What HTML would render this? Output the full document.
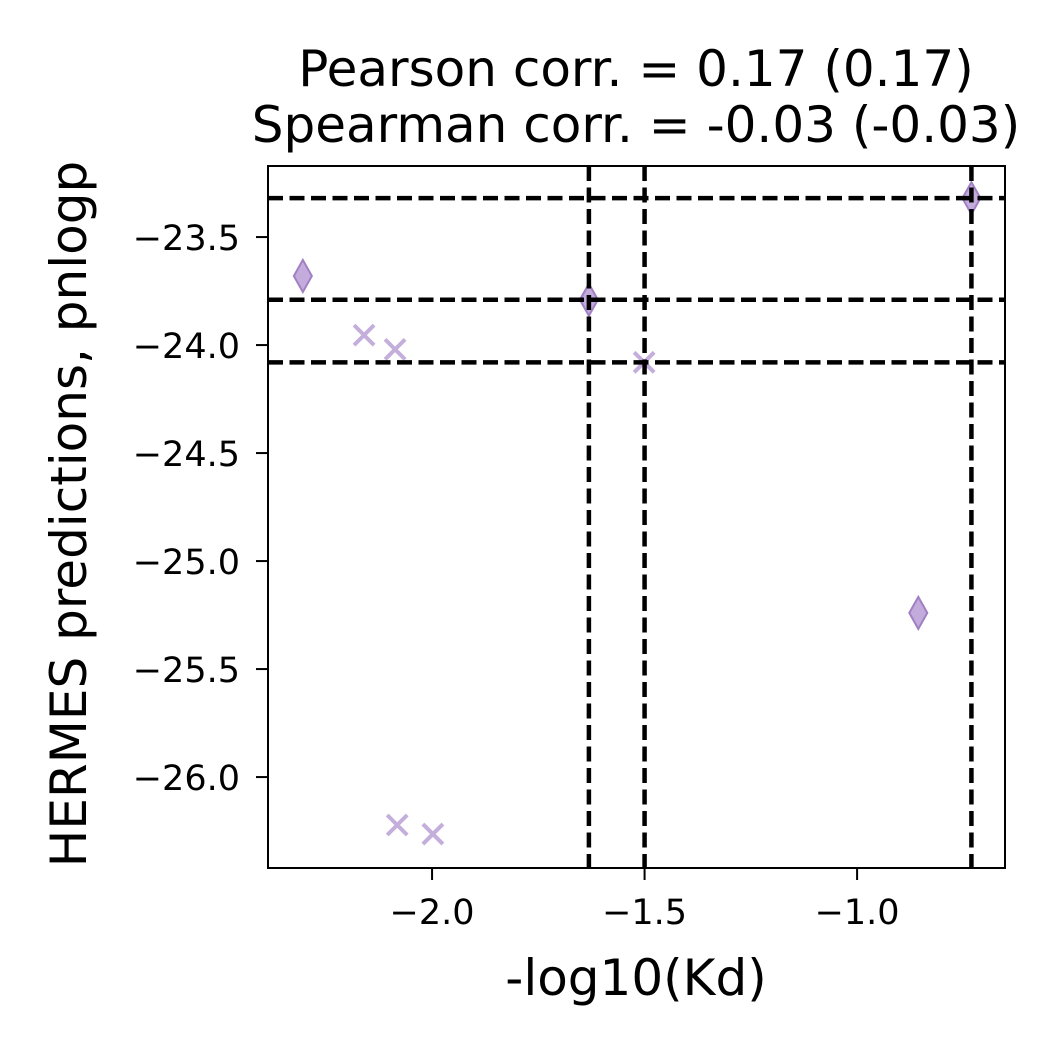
<!DOCTYPE html>
<html><head><meta charset="utf-8"><style>
html,body{margin:0;padding:0;background:#fff;}
svg{display:block;font-family:"DejaVu Sans","Liberation Sans",sans-serif;}
</style></head><body>
<svg id="chart" width="1050" height="1050" viewBox="0 0 1050 1050">
<rect width="1050" height="1050" fill="#fff"/>
<text x="636" y="86" font-size="50" text-anchor="middle">Pearson corr. = 0.17 (0.17)</text>
<text x="636" y="142" font-size="50" text-anchor="middle">Spearman corr. = -0.03 (-0.03)</text>
<g id="plot"></g>
<rect x="268" y="166" width="737" height="702" fill="none" stroke="#000" stroke-width="2"/>
<text x="636" y="995" font-size="50" text-anchor="middle">-log10(Kd)</text>
<text transform="translate(86,514) rotate(-90)" font-size="50" text-anchor="middle">HERMES predictions, pnlogp</text>
</svg>
<script>
const diamondX = [-2.304, -1.631, -0.856, -0.731];
const diamondY = [-23.68, -23.79, -25.24, -23.32];
const crossX = [-2.16, -2.087, -1.501, -2.082, -1.998];
const crossY = [-23.954, -24.02, -24.08, -26.222, -26.264];
const vLines = [-1.631, -1.5, -0.731];
const hLines = [-23.32, -23.79, -24.08];
const xTicks = [-2.0, -1.5, -1.0];
const xTickLabels = ["\u22122.0", "\u22121.5", "\u22121.0"];
const yTicks = [-23.5, -24.0, -24.5, -25.0, -25.5, -26.0];
const yTickLabels = ["\u221223.5", "\u221224.0", "\u221224.5", "\u221225.0", "\u221225.5", "\u221226.0"];

const L=268,R=1005,T=166,B=868;
const xMin=-2.386,xMax=-0.652,yMin=-26.421,yMax=-23.171;
const sx=v=>L+(v-xMin)/(xMax-xMin)*(R-L);
const sy=v=>B-(v-yMin)/(yMax-yMin)*(B-T);
const NS="http://www.w3.org/2000/svg";
const g=document.getElementById('plot');
function mk(tag,attrs){const e=document.createElementNS(NS,tag);for(const k in attrs)e.setAttribute(k,attrs[k]);g.appendChild(e);return e;}

xTicks.forEach((v,i)=>{
  const t=mk('line',{x1:sx(v),x2:sx(v),y1:B,y2:B+12,stroke:'#000','stroke-width':2});
  
  
  const s=mk('text',{x:sx(v),y:B+56,'font-size':35,'text-anchor':'middle'});
  s.textContent=xTickLabels[i];
  
  
});
yTicks.forEach((v,i)=>{
  const t=mk('line',{x1:L-12,x2:L,y1:sy(v),y2:sy(v),stroke:'#000','stroke-width':2});
  
  
  const s=mk('text',{x:L-28,y:sy(v)+13,'font-size':35,'text-anchor':'end'});
  s.textContent=yTickLabels[i];
  
  
});
diamondX.forEach((v,i)=>{
  const x=sx(v),y=sy(diamondY[i]);
  const p=mk('polygon',{points:`${x},${y-16} ${x+9},${y} ${x},${y+16} ${x-9},${y}`,fill:'#b89cd6','fill-opacity':0.85,stroke:'#a080c4','stroke-width':2});
  
  
});
crossX.forEach((v,i)=>{
  const x=sx(v),y=sy(crossY[i]),d=10;
  const p=mk('path',{d:`M${x-d},${y-d}L${x+d},${y+d}M${x-d},${y+d}L${x+d},${y-d}`,stroke:'#c4aedb','stroke-width':4,fill:'none'});
  
  
});
vLines.forEach(v=>{
  const l=mk('line',{x1:sx(v),x2:sx(v),y1:T,y2:B,stroke:'#000','stroke-width':4.5,'stroke-dasharray':'15 6.5'});
  
  
});
hLines.forEach(v=>{
  const l=mk('line',{x1:L,x2:R,y1:sy(v),y2:sy(v),stroke:'#000','stroke-width':4.5,'stroke-dasharray':'15 6.5'});
  
  
});
</script>
</body></html>
